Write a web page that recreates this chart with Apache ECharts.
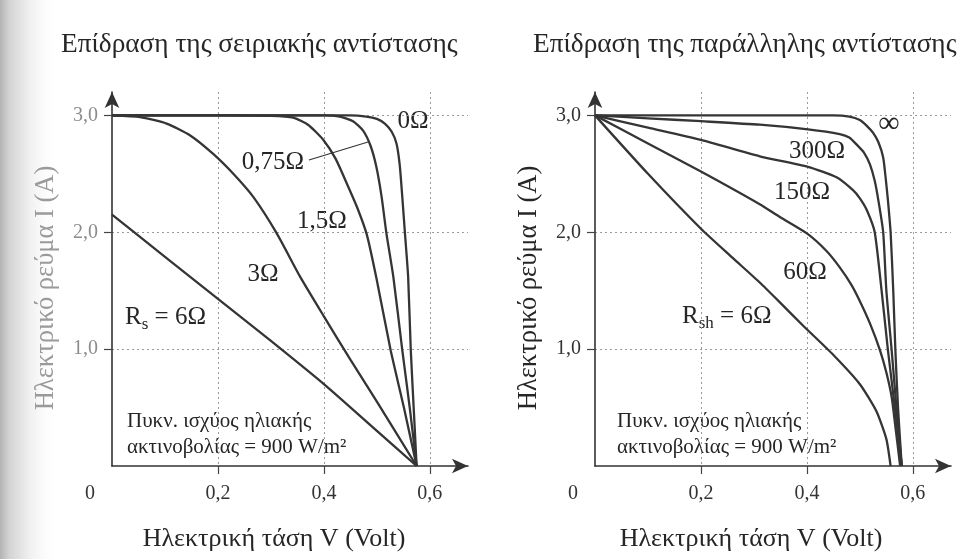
<!DOCTYPE html>
<html><head><meta charset="utf-8">
<script src="https://cdn.jsdelivr.net/npm/echarts@6/dist/echarts.min.js"></script>
<style>html,body{margin:0;padding:0;background:#fff}#c{width:967px;height:559px}</style>
</head><body><div id="c"></div>
<script>
const FONT = '"Liberation Serif","DejaVu Serif",serif';
const titles = ['Επίδραση της σειριακής αντίστασης', 'Επίδραση της παράλληλης αντίστασης'];
const xName = 'Ηλεκτρική τάση V (Volt)';
const yName = 'Ηλεκτρικό ρεύμα I (A)';
const xTickValues = [0.2, 0.4, 0.6];
const xLabelValues = [0, 0.2, 0.4, 0.6];
const yTickValues = [1, 2, 3];

// Left panel: series resistance Rs (V in Volt, I in A)
const rs0V   = [0, 0.30, 0.45, 0.48, 0.50, 0.515, 0.528, 0.537, 0.543, 0.548, 0.553, 0.559, 0.564, 0.570, 0.575];
const rs0I   = [3.0, 3.0, 3.0, 2.99, 2.97, 2.93, 2.86, 2.76, 2.58, 2.30, 1.99, 1.62, 0.99, 0.45, 0];
const rs075V = [0, 0.30, 0.40, 0.43, 0.455, 0.474, 0.488, 0.499, 0.509, 0.518, 0.531, 0.548, 0.562, 0.575];
const rs075I = [3.0, 3.0, 3.0, 2.99, 2.95, 2.87, 2.74, 2.56, 2.30, 1.99, 1.62, 0.99, 0.50, 0];
const rs15V  = [0, 0.20, 0.30, 0.342, 0.37, 0.399, 0.422, 0.443, 0.463, 0.481, 0.499, 0.526, 0.551, 0.575];
const rs15I  = [3.0, 3.0, 2.995, 2.98, 2.92, 2.79, 2.63, 2.42, 2.21, 1.98, 1.61, 0.99, 0.50, 0];
const rs3V   = [0, 0.053, 0.103, 0.147, 0.191, 0.229, 0.267, 0.311, 0.355, 0.40, 0.45, 0.50, 0.575];
const rs3I   = [3.0, 2.985, 2.93, 2.83, 2.67, 2.50, 2.30, 1.99, 1.62, 1.28, 0.91, 0.55, 0];
const rs6V   = [0, 0.1, 0.2, 0.3, 0.4, 0.5, 0.575];
const rs6I   = [2.15, 1.79, 1.43, 1.07, 0.70, 0.30, 0];

// Right panel: shunt resistance Rsh
const rshInfV = [0, 0.30, 0.45, 0.48, 0.50, 0.513, 0.525, 0.535, 0.544, 0.549, 0.553, 0.558, 0.563, 0.567, 0.572, 0.579];
const rshInfI = [3.0, 3.0, 3.0, 2.99, 2.96, 2.91, 2.85, 2.77, 2.64, 2.45, 2.27, 2.0, 1.5, 0.99, 0.5, 0];
const rsh300V = [0, 0.1, 0.2, 0.311, 0.402, 0.462, 0.48, 0.494, 0.508, 0.519, 0.528, 0.535, 0.544, 0.550, 0.560, 0.569, 0.579];
const rsh300I = [3.0, 2.975, 2.95, 2.92, 2.88, 2.84, 2.81, 2.75, 2.68, 2.58, 2.44, 2.27, 2.0, 1.5, 0.99, 0.5, 0];
const rsh150V = [0, 0.1, 0.2, 0.311, 0.402, 0.456, 0.487, 0.50, 0.513, 0.528, 0.541, 0.553, 0.566, 0.579];
const rsh150I = [3.0, 2.895, 2.79, 2.65, 2.56, 2.47, 2.36, 2.29, 2.19, 2.0, 1.5, 0.99, 0.5, 0];
const rsh60V  = [0, 0.1, 0.2, 0.311, 0.349, 0.40, 0.437, 0.462, 0.484, 0.50, 0.519, 0.538, 0.550, 0.560, 0.568, 0.576];
const rsh60I  = [3.0, 2.76, 2.52, 2.24, 2.13, 1.99, 1.84, 1.70, 1.55, 1.41, 1.22, 0.99, 0.80, 0.59, 0.30, 0];
const rsh6V   = [0, 0.1, 0.2, 0.26, 0.311, 0.349, 0.393, 0.45, 0.50, 0.531, 0.550, 0.558];
const rsh6I   = [3.0, 2.5, 2.03, 1.78, 1.57, 1.40, 1.20, 0.95, 0.70, 0.47, 0.23, 0];

const leftCurves  = [[rs0V, rs0I], [rs075V, rs075I], [rs15V, rs15I], [rs3V, rs3I], [rs6V, rs6I]];
const rightCurves = [[rshInfV, rshInfI], [rsh300V, rsh300I], [rsh150V, rsh150I], [rsh60V, rsh60I], [rsh6V, rsh6I]];

const pair = (vs, is) => vs.map((v, k) => [v, is[k]]);
const comma = v => v.toFixed(1).replace('.', ',');
const LINE = '#353535';
const TXT = '#262626';

function xAxisFor(g, namePad) {
  return {
    gridIndex: g, type: 'value', min: 0, max: 0.672, interval: 0.2,
    axisLine: { show: true, lineStyle: { color: '#333', width: 1.6 }, symbol: ['none', 'arrow'], symbolSize: [11, 16] },
    axisTick: { show: true, customValues: xTickValues, length: 8, lineStyle: { color: '#444', width: 1.2 } },
    axisLabel: {
      customValues: xLabelValues, margin: 18, fontFamily: FONT, fontSize: 20, color: '#333',
      formatter: v => v === 0 ? '{z|0}' : comma(v),
      rich: { z: { padding: [0, 44, 0, 0], fontFamily: FONT, fontSize: 20, color: '#333' } }
    },
    splitLine: { show: true, lineStyle: { type: [2, 3], color: '#9a9a9a', width: 1 } },
    name: xName, nameLocation: 'middle', nameGap: 60,
    nameTextStyle: { fontFamily: FONT, fontSize: 26, color: TXT, padding: [0, namePad, 0, 0] }
  };
}
function yAxisFor(g, labelColor, nameColor) {
  return {
    gridIndex: g, type: 'value', min: 0, max: 3.2, interval: 1,
    axisLine: { show: true, lineStyle: { color: '#333', width: 1.6 }, symbol: ['none', 'arrow'], symbolSize: [11, 16] },
    axisTick: { show: true, customValues: yTickValues, length: 8, lineStyle: { color: '#444', width: 1.2 } },
    axisLabel: { customValues: yTickValues, margin: 14, fontFamily: FONT, fontSize: 20, color: labelColor, formatter: comma },
    splitLine: { show: true, lineStyle: { type: [2, 3], color: '#9a9a9a', width: 1 } },
    name: yName, nameLocation: 'middle', nameGap: 52,
    nameTextStyle: { fontFamily: FONT, fontSize: 26.5, color: nameColor, padding: [0, 18, 0, 0] }
  };
}

const series = [];
leftCurves.forEach(c => series.push({
  type: 'line', xAxisIndex: 0, yAxisIndex: 0, data: pair(c[0], c[1]), showSymbol: false,
  smooth: 0.2, lineStyle: { color: LINE, width: 2.3 }, silent: true
}));
rightCurves.forEach(c => series.push({
  type: 'line', xAxisIndex: 1, yAxisIndex: 1, data: pair(c[0], c[1]), showSymbol: false,
  smooth: 0.2, lineStyle: { color: LINE, width: 2.3 }, silent: true
}));

const txt = (text, x, y, size, align) => ({
  type: 'text', x: x, y: y, silent: true,
  style: { text: text, fontFamily: FONT, fontSize: size || 20, fill: TXT, align: align || 'center', verticalAlign: 'middle' }
});
const richSub = (main, sub, rest) => ({
  text: '{n|' + main + '}{s|' + sub + '}{n|' + rest + '}',
  rich: {
    n: { fontFamily: FONT, fontSize: 25, fill: TXT, lineHeight: 32, verticalAlign: 'middle' },
    s: { fontFamily: FONT, fontSize: 17, fill: TXT, lineHeight: 32, verticalAlign: 'bottom' }
  }
});

const gutter = {
  type: 'rect', z: -10, silent: true, shape: { x: 0, y: 0, width: 60, height: 559 },
  style: { fill: new echarts.graphic.LinearGradient(0, 0, 1, 0, [
    { offset: 0, color: '#b3b3b3' }, { offset: 0.15, color: '#d3d3d3' }, { offset: 0.5, color: '#f0f0f0' }, { offset: 1, color: 'rgba(255,255,255,0)' }
  ]) }
};

const option = {
  animation: false,
  backgroundColor: '#ffffff',
  grid: [
    { left: 112, top: 92, width: 356, height: 374 },
    { left: 595, top: 92, width: 356, height: 374 }
  ],
  xAxis: [xAxisFor(0, 32), xAxisFor(1, 44)],
  yAxis: [yAxisFor(0, '#8c8c8c', '#9a9a9a'), yAxisFor(1, '#333', TXT)],
  series: series,
  graphic: [
    gutter,
    txt(titles[0], 61, 45, 27.3, 'left'),
    txt(titles[1], 533, 45, 27.3, 'left'),
    // left panel annotations
    txt('0Ω', 413, 121, 25),
    txt('0,75Ω', 273, 162, 25),
    { type: 'line', silent: true, shape: { x1: 309, y1: 160, x2: 368, y2: 142 }, style: { stroke: '#333', lineWidth: 1.1 } },
    txt('1,5Ω', 322, 221, 25),
    txt('3Ω', 263, 274, 25),
    { type: 'text', silent: true, x: 125, y: 317, style: Object.assign(richSub('R', 's', ' = 6Ω'), { align: 'left', verticalAlign: 'middle' }) },
    txt('Πυκν. ισχύος ηλιακής', 127, 421, 21, 'left'),
    txt('ακτινοβολίας = 900 W/m²', 127, 447, 21, 'left'),
    // right panel annotations
    txt('∞', 889, 124, 30),
    txt('300Ω', 817, 151, 25),
    txt('150Ω', 802, 192, 25),
    txt('60Ω', 805, 272, 25),
    { type: 'text', silent: true, x: 682, y: 316, style: Object.assign(richSub('R', 'sh', ' = 6Ω'), { align: 'left', verticalAlign: 'middle' }) },
    txt('Πυκν. ισχύος ηλιακής', 617, 421, 21, 'left'),
    txt('ακτινοβολίας = 900 W/m²', 617, 447, 21, 'left')
  ]
};

const chart = echarts.init(document.getElementById('c'), null, { renderer: 'canvas' });
chart.setOption(option);
</script>
</body></html>
